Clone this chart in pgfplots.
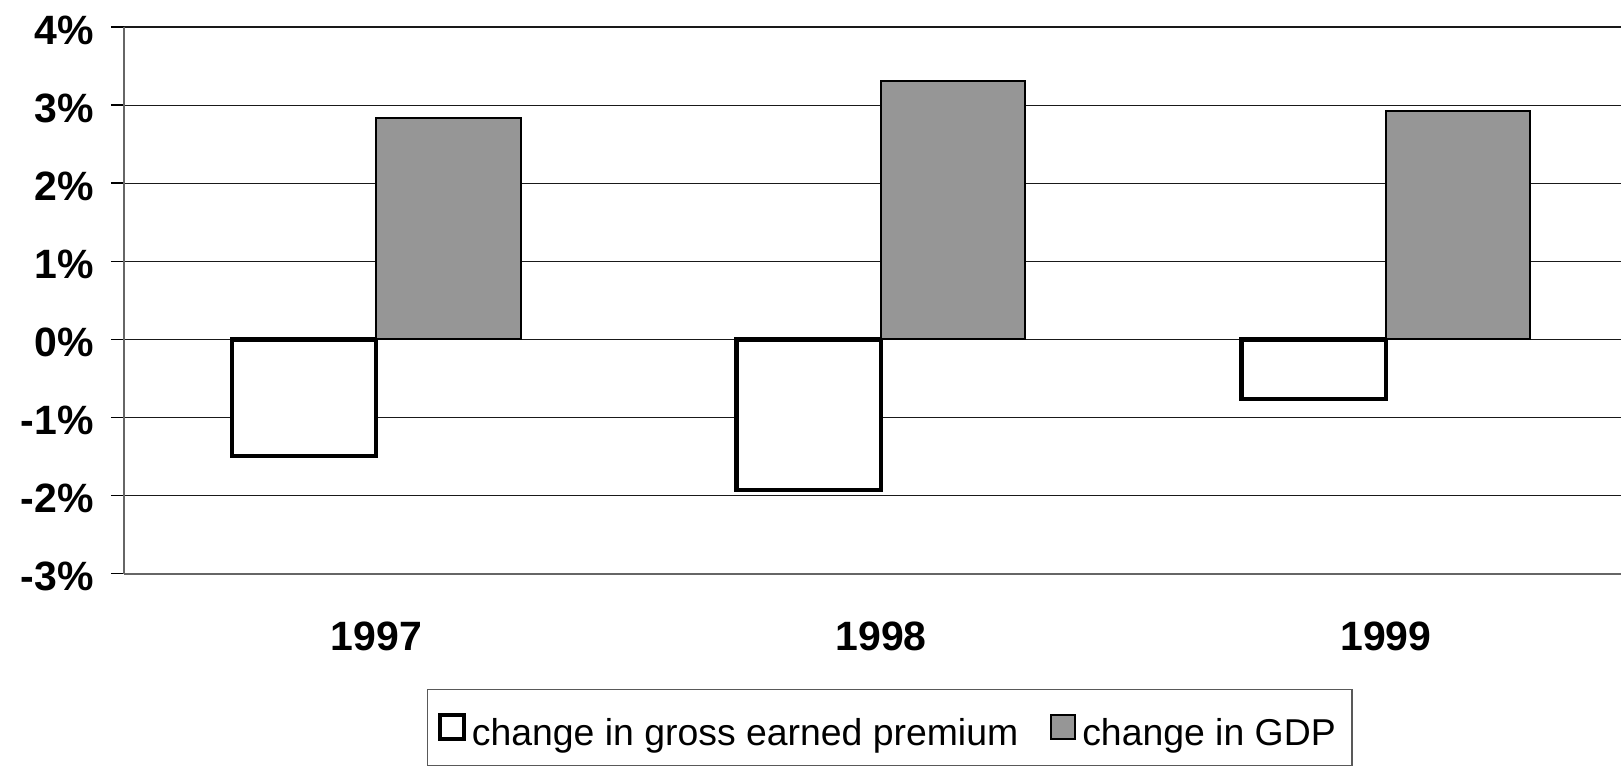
\documentclass[border=0pt]{standalone}
\usepackage{pgfplots}
\pgfplotsset{compat=1.18}
\usepackage{fontspec}
\setmainfont{Liberation Sans}
\definecolor{barfill}{HTML}{969696}
\pgfplotsset{sqlegend/.style={legend image code/.code={\draw[##1] (0pt,-6pt) rectangle (12pt,6pt);}}}
\begin{document}
\begin{tikzpicture}[x=0.5pt,y=0.5pt]
\path (-124,-197) rectangle (1498,574);
\begin{axis}[
  at={(0,0)}, anchor=south west,
  scale only axis,
  width=749pt, height=273.5pt,
  xmin=-0.5, xmax=2.466,
  ymin=-3, ymax=4,
  ytick={-3,-2,-1,0,1,2,3,4},
  yticklabels={-3\%,-2\%,-1\%,0\%,1\%,2\%,3\%,4\%},
  xtick={0,1,2},
  xticklabels={1997,1998,1999},
  ybar=0pt,
  bar width=0.2861,
  axis x line*=bottom, axis y line*=left,
  axis line style={-, line width=1pt, draw=black!60},
  ymajorgrids,
  grid style={line width=0.55pt, draw=black!90},
  tick align=outside,
  major tick length=6.5pt,
  ytick style={line width=0.75pt, draw=black},
  xtick style={draw=none},
  tick label style={font=\fontsize{20.5}{24}\selectfont\bfseries},
  yticklabel style={inner sep=0pt, anchor=east, xshift=-8.5pt, yshift=-1.5pt},
  xticklabel style={inner sep=0pt, anchor=north, yshift=-17.5pt},
  legend columns=2,
  legend style={at={(0.2023,-0.2102)}, anchor=north west, draw=black!65, line width=0.75pt,
    font=\fontsize{18.7}{22}\selectfont, inner xsep=5pt, inner ysep=8.5pt,
    nodes={inner xsep=3pt, inner ysep=0pt, text height=19.5pt, text depth=1.5pt},
    /tikz/every even column/.append style={column sep=13pt}},
]
\addplot[draw=black, fill=white, line width=2.2pt, sqlegend]
  coordinates {(0,-1.49) (1,-1.93) (2,-0.76)};
\addlegendentry{change in gross earned premium}
\addplot[draw=black, fill=barfill, line width=1pt, sqlegend]
  coordinates {(0,2.83) (1,3.31) (2,2.92)};
\addlegendentry{change in GDP}
\end{axis}
\end{tikzpicture}
\end{document}
